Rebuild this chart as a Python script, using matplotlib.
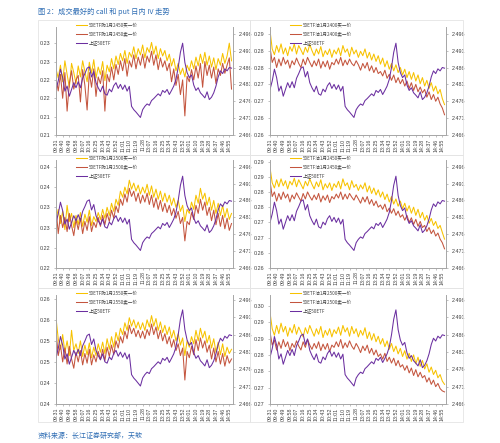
import numpy as np
import matplotlib
matplotlib.use("Agg")
import matplotlib.pyplot as plt
from matplotlib.patches import Rectangle

plt.rcParams['font.family'] = ['Liberation Sans', 'Noto Sans CJK SC', 'DejaVu Sans']

# sample positions: minute index 0..239 (09:31 .. 15:00), every 3 minutes
minute_idx = np.arange(0, 240, 3)

tick_labels = ['09:31', '09:40', '09:49', '09:58', '10:07', '10:16', '10:25', '10:34',
               '10:43', '10:52', '11:01', '11:10', '11:19', '11:28', '13:07', '13:16',
               '13:25', '13:34', '13:43', '13:52', '14:01', '14:10', '14:19', '14:28',
               '14:37', '14:46', '14:55']

# 上证50ETF price, same for every panel
etf = [2.4795, 2.4820, 2.4855, 2.4830, 2.4790, 2.4805, 2.4775, 2.4795, 2.4815, 2.4800,
       2.4818, 2.4800, 2.4828, 2.4842, 2.4858, 2.4862, 2.4832, 2.4848, 2.4815, 2.4800,
       2.4788, 2.4805, 2.4782, 2.4778, 2.4796, 2.4788, 2.4806, 2.4815, 2.4798, 2.4810,
       2.4795, 2.4808, 2.4790, 2.4804, 2.4745, 2.4735, 2.4728, 2.4720, 2.4712, 2.4735,
       2.4745, 2.4752, 2.4748, 2.4762, 2.4768, 2.4775, 2.4782, 2.4776, 2.4792, 2.4786,
       2.4795, 2.4780, 2.4792, 2.4805, 2.4825, 2.4860, 2.4905, 2.4932, 2.4875, 2.4845,
       2.4830, 2.4838, 2.4808, 2.4792, 2.4800, 2.4785, 2.4778, 2.4770, 2.4788, 2.4765,
       2.4772, 2.4785, 2.4805, 2.4832, 2.4850, 2.4842, 2.4856, 2.4850, 2.4860, 2.4858]

# 购1月2450
c2450_bid = [0.2240, 0.2215, 0.2250, 0.2205, 0.2262, 0.2225, 0.2190, 0.2255, 0.2230, 0.2200,
             0.2248, 0.2218, 0.2262, 0.2232, 0.2205, 0.2258, 0.2228, 0.2265, 0.2215, 0.2245,
             0.2225, 0.2260, 0.2208, 0.2250, 0.2232, 0.2268, 0.2240, 0.2275, 0.2252, 0.2282,
             0.2262, 0.2290, 0.2255, 0.2285, 0.2272, 0.2300, 0.2268, 0.2295, 0.2278, 0.2305,
             0.2270, 0.2298, 0.2285, 0.2312, 0.2280, 0.2302, 0.2268, 0.2295, 0.2275, 0.2290,
             0.2262, 0.2280, 0.2248, 0.2268, 0.2235, 0.2255, 0.2225, 0.2242, 0.2218, 0.2250,
             0.2235, 0.2262, 0.2240, 0.2272, 0.2248, 0.2280, 0.2255, 0.2285, 0.2250, 0.2275,
             0.2245, 0.2270, 0.2238, 0.2268, 0.2250, 0.2282, 0.2255, 0.2275, 0.2310, 0.2262]
c2450_ask = [0.2215, 0.2180, 0.2225, 0.2160, 0.2230, 0.2125, 0.2200, 0.2235, 0.2185, 0.2210,
             0.2222, 0.2150, 0.2238, 0.2195, 0.2128, 0.2230, 0.2190, 0.2240, 0.2165, 0.2218,
             0.2200, 0.2235, 0.2125, 0.2225, 0.2205, 0.2245, 0.2210, 0.2252, 0.2225, 0.2262,
             0.2235, 0.2268, 0.2220, 0.2262, 0.2245, 0.2278, 0.2240, 0.2272, 0.2250, 0.2280,
             0.2242, 0.2275, 0.2258, 0.2288, 0.2250, 0.2278, 0.2238, 0.2270, 0.2245, 0.2262,
             0.2235, 0.2255, 0.2205, 0.2240, 0.2195, 0.2225, 0.2170, 0.2210, 0.2112, 0.2220,
             0.2205, 0.2238, 0.2210, 0.2248, 0.2215, 0.2255, 0.2190, 0.2260, 0.2222, 0.2250,
             0.2215, 0.2245, 0.2200, 0.2240, 0.2222, 0.2255, 0.2228, 0.2250, 0.2270, 0.2185]

# 沽1月2400
p2400_bid = [0.2870, 0.2815, 0.2798, 0.2825, 0.2805, 0.2830, 0.2800, 0.2818, 0.2795, 0.2822,
             0.2808, 0.2830, 0.2800, 0.2825, 0.2812, 0.2798, 0.2820, 0.2805, 0.2828, 0.2810,
             0.2795, 0.2815, 0.2800, 0.2822, 0.2792, 0.2810, 0.2798, 0.2815, 0.2790, 0.2812,
             0.2800, 0.2818, 0.2795, 0.2825, 0.2805, 0.2815, 0.2792, 0.2820, 0.2800, 0.2812,
             0.2790, 0.2808, 0.2795, 0.2815, 0.2788, 0.2805, 0.2782, 0.2800, 0.2778, 0.2795,
             0.2770, 0.2788, 0.2762, 0.2780, 0.2755, 0.2772, 0.2750, 0.2768, 0.2745, 0.2760,
             0.2738, 0.2755, 0.2730, 0.2748, 0.2725, 0.2745, 0.2720, 0.2738, 0.2712, 0.2730,
             0.2705, 0.2722, 0.2698, 0.2715, 0.2690, 0.2705, 0.2682, 0.2695, 0.2668, 0.2650]
p2400_ask = [0.2820, 0.2775, 0.2790, 0.2760, 0.2785, 0.2765, 0.2790, 0.2770, 0.2782, 0.2758,
             0.2780, 0.2768, 0.2788, 0.2772, 0.2760, 0.2785, 0.2768, 0.2790, 0.2775, 0.2762,
             0.2780, 0.2765, 0.2785, 0.2758, 0.2778, 0.2762, 0.2780, 0.2755, 0.2775, 0.2768,
             0.2785, 0.2770, 0.2790, 0.2765, 0.2782, 0.2768, 0.2785, 0.2772, 0.2765, 0.2780,
             0.2768, 0.2752, 0.2772, 0.2758, 0.2775, 0.2750, 0.2765, 0.2745, 0.2760, 0.2742,
             0.2748, 0.2735, 0.2752, 0.2728, 0.2740, 0.2722, 0.2738, 0.2715, 0.2730, 0.2712,
             0.2725, 0.2705, 0.2720, 0.2698, 0.2715, 0.2692, 0.2710, 0.2688, 0.2702, 0.2685,
             0.2695, 0.2672, 0.2688, 0.2665, 0.2680, 0.2660, 0.2672, 0.2652, 0.2640, 0.2620]

# 购1月2500
c2500_bid = [0.2275, 0.2300, 0.2265, 0.2295, 0.2250, 0.2310, 0.2270, 0.2290, 0.2255, 0.2285,
             0.2262, 0.2292, 0.2258, 0.2288, 0.2268, 0.2298, 0.2260, 0.2282, 0.2270, 0.2292,
             0.2275, 0.2300, 0.2278, 0.2305, 0.2285, 0.2315, 0.2295, 0.2325, 0.2310, 0.2345,
             0.2330, 0.2355, 0.2338, 0.2372, 0.2350, 0.2365, 0.2345, 0.2360, 0.2338, 0.2355,
             0.2340, 0.2362, 0.2335, 0.2358, 0.2330, 0.2350, 0.2325, 0.2345, 0.2320, 0.2340,
             0.2318, 0.2335, 0.2310, 0.2328, 0.2305, 0.2322, 0.2295, 0.2310, 0.2270, 0.2300,
             0.2290, 0.2318, 0.2300, 0.2335, 0.2315, 0.2352, 0.2325, 0.2340, 0.2310, 0.2330,
             0.2298, 0.2322, 0.2290, 0.2315, 0.2285, 0.2310, 0.2280, 0.2302, 0.2275, 0.2290]
c2500_ask = [0.2305, 0.2240, 0.2285, 0.2255, 0.2280, 0.2245, 0.2290, 0.2260, 0.2235, 0.2275,
             0.2250, 0.2278, 0.2240, 0.2270, 0.2248, 0.2282, 0.2245, 0.2268, 0.2255, 0.2280,
             0.2258, 0.2285, 0.2262, 0.2290, 0.2270, 0.2298, 0.2278, 0.2308, 0.2292, 0.2325,
             0.2310, 0.2338, 0.2318, 0.2352, 0.2332, 0.2345, 0.2320, 0.2340, 0.2315, 0.2335,
             0.2318, 0.2340, 0.2312, 0.2335, 0.2305, 0.2328, 0.2300, 0.2322, 0.2295, 0.2315,
             0.2292, 0.2310, 0.2285, 0.2302, 0.2278, 0.2295, 0.2265, 0.2280, 0.2222, 0.2270,
             0.2262, 0.2292, 0.2275, 0.2310, 0.2290, 0.2325, 0.2298, 0.2318, 0.2285, 0.2305,
             0.2272, 0.2298, 0.2262, 0.2290, 0.2258, 0.2285, 0.2252, 0.2278, 0.2248, 0.2265]

# 沽1月2450
p2450_bid = [0.2885, 0.2835, 0.2818, 0.2845, 0.2822, 0.2848, 0.2825, 0.2842, 0.2815, 0.2840,
             0.2828, 0.2850, 0.2822, 0.2845, 0.2830, 0.2815, 0.2840, 0.2825, 0.2848, 0.2830,
             0.2815, 0.2838, 0.2822, 0.2845, 0.2812, 0.2832, 0.2818, 0.2835, 0.2810, 0.2832,
             0.2820, 0.2840, 0.2815, 0.2848, 0.2825, 0.2835, 0.2812, 0.2842, 0.2820, 0.2830,
             0.2810, 0.2828, 0.2815, 0.2835, 0.2805, 0.2825, 0.2800, 0.2818, 0.2795, 0.2812,
             0.2788, 0.2805, 0.2780, 0.2798, 0.2772, 0.2790, 0.2765, 0.2782, 0.2758, 0.2775,
             0.2750, 0.2768, 0.2742, 0.2760, 0.2735, 0.2755, 0.2728, 0.2748, 0.2720, 0.2738,
             0.2712, 0.2728, 0.2702, 0.2718, 0.2695, 0.2708, 0.2685, 0.2695, 0.2672, 0.2650]
p2450_ask = [0.2840, 0.2790, 0.2805, 0.2775, 0.2800, 0.2780, 0.2805, 0.2785, 0.2798, 0.2772,
             0.2795, 0.2782, 0.2802, 0.2788, 0.2775, 0.2800, 0.2782, 0.2805, 0.2790, 0.2778,
             0.2795, 0.2780, 0.2800, 0.2772, 0.2792, 0.2778, 0.2795, 0.2770, 0.2790, 0.2782,
             0.2798, 0.2785, 0.2805, 0.2780, 0.2798, 0.2782, 0.2800, 0.2788, 0.2778, 0.2795,
             0.2782, 0.2768, 0.2788, 0.2772, 0.2790, 0.2765, 0.2780, 0.2760, 0.2775, 0.2755,
             0.2762, 0.2748, 0.2765, 0.2740, 0.2752, 0.2735, 0.2750, 0.2728, 0.2742, 0.2722,
             0.2730, 0.2712, 0.2728, 0.2705, 0.2720, 0.2698, 0.2715, 0.2692, 0.2708, 0.2688,
             0.2695, 0.2675, 0.2688, 0.2668, 0.2680, 0.2660, 0.2670, 0.2650, 0.2638, 0.2618]

# 购1月2550
c2550_bid = [0.2560, 0.2510, 0.2485, 0.2520, 0.2478, 0.2505, 0.2470, 0.2530, 0.2482, 0.2498,
             0.2475, 0.2505, 0.2468, 0.2495, 0.2472, 0.2500, 0.2465, 0.2490, 0.2470, 0.2498,
             0.2478, 0.2502, 0.2475, 0.2510, 0.2485, 0.2515, 0.2490, 0.2525, 0.2505, 0.2535,
             0.2520, 0.2548, 0.2530, 0.2560, 0.2540, 0.2555, 0.2535, 0.2550, 0.2532, 0.2548,
             0.2530, 0.2555, 0.2538, 0.2565, 0.2540, 0.2558, 0.2530, 0.2550, 0.2525, 0.2542,
             0.2520, 0.2538, 0.2512, 0.2530, 0.2505, 0.2522, 0.2495, 0.2512, 0.2470, 0.2505,
             0.2490, 0.2515, 0.2498, 0.2530, 0.2505, 0.2535, 0.2512, 0.2528, 0.2500, 0.2518,
             0.2488, 0.2510, 0.2478, 0.2502, 0.2472, 0.2498, 0.2468, 0.2490, 0.2475, 0.2485]
c2550_ask = [0.2530, 0.2470, 0.2495, 0.2455, 0.2488, 0.2450, 0.2492, 0.2462, 0.2440, 0.2478,
             0.2455, 0.2482, 0.2448, 0.2475, 0.2452, 0.2485, 0.2448, 0.2472, 0.2455, 0.2480,
             0.2460, 0.2485, 0.2458, 0.2490, 0.2468, 0.2495, 0.2472, 0.2505, 0.2488, 0.2515,
             0.2500, 0.2528, 0.2510, 0.2542, 0.2522, 0.2535, 0.2515, 0.2530, 0.2512, 0.2528,
             0.2510, 0.2532, 0.2518, 0.2545, 0.2520, 0.2538, 0.2510, 0.2530, 0.2505, 0.2522,
             0.2498, 0.2515, 0.2490, 0.2508, 0.2482, 0.2498, 0.2470, 0.2488, 0.2412, 0.2480,
             0.2465, 0.2492, 0.2472, 0.2508, 0.2482, 0.2512, 0.2488, 0.2505, 0.2478, 0.2495,
             0.2462, 0.2488, 0.2455, 0.2480, 0.2450, 0.2475, 0.2445, 0.2470, 0.2452, 0.2462]

# 沽1月2500
p2500_bid = [0.2945, 0.2895, 0.2875, 0.2905, 0.2880, 0.2912, 0.2885, 0.2902, 0.2872, 0.2898,
             0.2882, 0.2908, 0.2878, 0.2900, 0.2885, 0.2870, 0.2898, 0.2880, 0.2905, 0.2888,
             0.2872, 0.2895, 0.2878, 0.2902, 0.2868, 0.2890, 0.2875, 0.2895, 0.2870, 0.2892,
             0.2880, 0.2900, 0.2875, 0.2905, 0.2885, 0.2898, 0.2872, 0.2902, 0.2880, 0.2895,
             0.2870, 0.2890, 0.2875, 0.2898, 0.2865, 0.2885, 0.2860, 0.2880, 0.2855, 0.2872,
             0.2848, 0.2865, 0.2840, 0.2858, 0.2832, 0.2850, 0.2825, 0.2842, 0.2818, 0.2835,
             0.2810, 0.2828, 0.2802, 0.2820, 0.2795, 0.2815, 0.2788, 0.2808, 0.2780, 0.2798,
             0.2772, 0.2788, 0.2762, 0.2778, 0.2755, 0.2768, 0.2745, 0.2755, 0.2735, 0.2725]
p2500_ask = [0.2885, 0.2845, 0.2860, 0.2830, 0.2855, 0.2835, 0.2862, 0.2840, 0.2855, 0.2828,
             0.2850, 0.2838, 0.2858, 0.2842, 0.2830, 0.2855, 0.2838, 0.2862, 0.2845, 0.2832,
             0.2850, 0.2835, 0.2855, 0.2828, 0.2848, 0.2832, 0.2850, 0.2825, 0.2845, 0.2838,
             0.2855, 0.2840, 0.2862, 0.2835, 0.2852, 0.2838, 0.2858, 0.2842, 0.2832, 0.2850,
             0.2838, 0.2822, 0.2842, 0.2828, 0.2845, 0.2820, 0.2835, 0.2815, 0.2830, 0.2810,
             0.2818, 0.2802, 0.2820, 0.2795, 0.2808, 0.2790, 0.2805, 0.2782, 0.2798, 0.2778,
             0.2785, 0.2768, 0.2782, 0.2760, 0.2775, 0.2752, 0.2770, 0.2748, 0.2762, 0.2745,
             0.2752, 0.2732, 0.2745, 0.2725, 0.2738, 0.2718, 0.2728, 0.2712, 0.2705, 0.2702]

# left axis ticks (start, count) and their printed labels
p1_yticks = (0.206, 6);  p1_ylabels = ['0.21', '0.21', '0.22', '0.22', '0.23', '0.23']
p2_yticks = (0.256, 7);  p2_ylabels = ['0.26', '0.26', '0.27', '0.27', '0.28', '0.28', '0.29']
p3_yticks = (0.2155, 6); p3_ylabels = ['0.22', '0.22', '0.23', '0.23', '0.24', '0.24']
p4_yticks = (0.2555, 8); p4_ylabels = ['0.26', '0.26', '0.27', '0.27', '0.28', '0.28', '0.29', '0.29']
p5_yticks = (0.2355, 6); p5_ylabels = ['0.24', '0.24', '0.25', '0.25', '0.26', '0.26']
p6_yticks = (0.2665, 7); p6_ylabels = ['0.27', '0.27', '0.28', '0.28', '0.29', '0.29', '0.30']
etf_ticks = [2.466, 2.471, 2.476, 2.481, 2.486, 2.491, 2.496]

YELLOW = '#F7C200'
RED = '#C4553E'
PURPLE = '#6B2FA0'
GRID = '#A6A6A6'
TXT = '#404040'

# (left px, top px, width px, height px), names, data, ylim
panels = [
    ((56, 27, 177, 108), '购1月2450', c2450_bid, c2450_ask, p1_yticks, p1_ylabels, 0.2354, 2.498),
    ((270, 27, 176, 108), '沽1月2400', p2400_bid, p2400_ask, p2_yticks, p2_ylabels, 0.288, 2.498),
    ((56, 160, 177, 108), '购1月2500', c2500_bid, c2500_ask, p3_yticks, p3_ylabels, 0.2422, 2.498),
    ((270, 160, 176, 108), '沽1月2450', p2450_bid, p2450_ask, p4_yticks, p4_ylabels, 0.2910, 2.498),
    ((56, 295, 177, 109), '购1月2550', c2550_bid, c2550_ask, p5_yticks, p5_ylabels, 0.2614, 2.4975),
    ((270, 295, 176, 109), '沽1月2500', p2500_bid, p2500_ask, p6_yticks, p6_ylabels, 0.2998, 2.4975),
]

W, H = 500, 443
fig = plt.figure(figsize=(W / 100, H / 100), dpi=100)
fig.patch.set_facecolor('white')

# faint frames around each panel
for (bx, by, bw, bh) in [(38, 20, 212, 135), (250, 20, 213, 135),
                         (38, 155, 212, 133), (250, 155, 213, 133),
                         (38, 288, 212, 134), (250, 288, 213, 134)]:
    fig.add_artist(Rectangle((bx / W, 1 - (by + bh) / H), bw / W, bh / H,
                             transform=fig.transFigure, fill=False,
                             edgecolor='#E4E4E4', linewidth=0.6))

step = 0.005
for (px, py, pw, ph), name, bid, ask, (y0, n), ylabs, ytop, etftop in panels:
    ax = fig.add_axes([px / W, 1 - (py + ph) / H, pw / W, ph / H])
    l1, = ax.plot(minute_idx, bid, color=YELLOW, lw=0.75, label='50ETF' + name + '买一价')
    l2, = ax.plot(minute_idx, ask, color=RED, lw=0.75, label='50ETF' + name + '卖一价')
    ax.set_xlim(0, 239)
    ax.set_ylim(y0, ytop)
    ax.set_yticks([y0 + step * k for k in range(n)])
    ax.set_yticklabels(ylabs)
    ax.set_xticks(np.arange(0, 240, 9))
    ax.set_xticklabels(tick_labels, rotation=90)

    ax2 = ax.twinx()
    l3, = ax2.plot(minute_idx, etf, color=PURPLE, lw=0.75, label='上证50ETF')
    ax2.set_ylim(2.466, etftop)
    ax2.set_yticks(etf_ticks)
    ax2.set_yticklabels(['%.3f' % v for v in etf_ticks])

    for a in (ax, ax2):
        a.spines['top'].set_visible(False)
        for s in ('left', 'right', 'bottom'):
            a.spines[s].set_color(GRID)
            a.spines[s].set_linewidth(0.6)
        a.tick_params(axis='y', labelsize=3.9, length=1.5, width=0.5,
                      colors=GRID, labelcolor=TXT, pad=2.5)
        a.tick_params(axis='x', labelsize=3.8, length=1.5, width=0.5,
                      colors=GRID, labelcolor=TXT, pad=1)
    ax.set_facecolor('none')

    leg = ax2.legend(handles=[l1, l2, l3], loc='upper left', bbox_to_anchor=(0.115, 1.04),
                     frameon=False, borderpad=0, borderaxespad=0, handlelength=2.4,
                     handletextpad=0.4, labelspacing=0.85,
                     prop={'family': ['Noto Sans CJK SC', 'DejaVu Sans'], 'size': 3.3})
    for t in leg.get_texts():
        t.set_color(TXT)

fig.text(38 / W, 1 - 12 / H, '图 2：成交最好的 call 和 put 日内 IV 走势', color='#2E6DB4',
         fontsize=5.2, family=['Noto Sans CJK SC', 'DejaVu Sans'], va='center', ha='left')
fig.text(38 / W, 1 - 436 / H, '资料来源：长江证券研究部，天软', color='#2E6DB4',
         fontsize=5.0, family=['Noto Sans CJK SC', 'DejaVu Sans'], va='center', ha='left')

fig.savefig('out.png', dpi=100, facecolor='white')
